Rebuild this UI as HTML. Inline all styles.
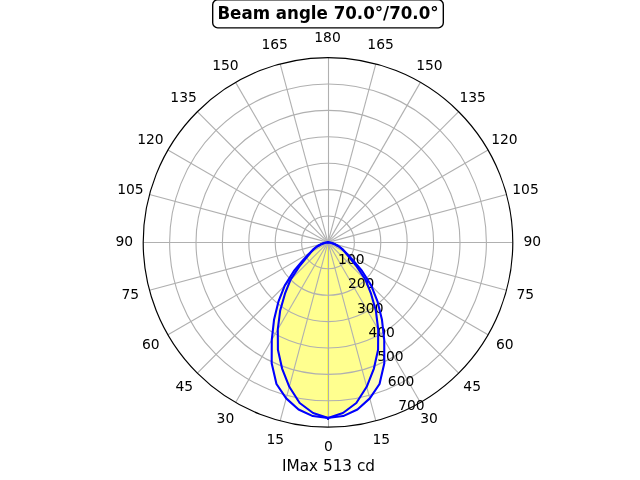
<!DOCTYPE html>
<html lang="en"><head><meta charset="utf-8"><title>Beam angle 70.0°/70.0°</title>
<style>html,body{margin:0;padding:0;background:#fff;width:640px;height:480px;overflow:hidden}svg{display:block}text{font-family:"DejaVu Sans","Liberation Sans",sans-serif;fill:#000}</style>
</head><body>
<svg width="640" height="480" viewBox="0 0 640 480">
<defs><clipPath id="ax"><circle cx="328" cy="242.4" r="184.8"/></clipPath></defs>
<rect width="640" height="480" fill="#fff"/>
<g clip-path="url(#ax)">
<g fill="#ffff00" fill-opacity="0.25" stroke="#ffff00" stroke-opacity="0.25" stroke-width="1.389" stroke-linejoin="miter">
<path d="M328.00 417.96 L343.20 416.08 L357.45 409.44 L369.80 398.39 L379.53 383.98 L384.32 363.18 L384.23 339.80 L381.92 319.41 L377.47 301.35 L371.27 285.67 L362.08 270.99 L352.33 259.44 L345.95 252.76 L342.19 249.02 L338.52 246.23 L335.04 244.29 L331.77 243.06 L329.45 242.53 L328.00 242.40 L328.00 242.40 Z"/>
<path d="M328.00 417.96 L312.80 416.08 L298.55 409.44 L286.20 398.39 L276.47 383.98 L271.68 363.18 L271.77 339.80 L274.08 319.41 L278.53 301.35 L284.73 285.67 L293.92 270.99 L303.67 259.44 L310.05 252.76 L313.81 249.02 L317.48 246.23 L320.96 244.29 L324.23 243.06 L326.55 242.53 L328.00 242.40 L328.00 242.40 Z"/>
<path d="M328.00 417.96 L342.93 413.01 L356.32 403.02 L366.69 386.81 L373.91 368.52 L378.08 349.81 L378.21 329.37 L375.88 310.78 L371.03 293.69 L365.60 280.00 L356.82 266.58 L349.08 257.16 L345.15 252.30 L342.38 249.11 L338.64 246.27 L334.96 244.27 L331.64 243.04 L329.31 242.52 L328.00 242.40 L328.00 242.40 Z"/>
<path d="M328.00 417.96 L313.07 413.01 L299.68 403.02 L289.31 386.81 L282.09 368.52 L277.92 349.81 L277.79 329.37 L280.12 310.78 L284.97 293.69 L290.40 280.00 L299.18 266.58 L306.92 257.16 L310.85 252.30 L313.62 249.11 L317.36 246.27 L321.04 244.27 L324.36 243.04 L326.69 242.52 L328.00 242.40 L328.00 242.40 Z"/>
</g>
<g fill="none" stroke="#b0b0b0" stroke-width="1.111">
<path d="M328.50 242.40 L328.50 427.20"/>
<path d="M328.00 242.40 L375.83 420.90"/>
<path d="M328.00 242.40 L420.40 402.44"/>
<path d="M328.00 242.40 L458.67 373.07"/>
<path d="M328.00 242.40 L488.04 334.80"/>
<path d="M328.00 242.40 L506.50 290.23"/>
<path d="M328.00 242.50 L512.80 242.50"/>
<path d="M328.00 242.40 L506.50 194.57"/>
<path d="M328.00 242.40 L488.04 150.00"/>
<path d="M328.00 242.40 L458.67 111.73"/>
<path d="M328.00 242.40 L420.40 82.36"/>
<path d="M328.00 242.40 L375.83 63.90"/>
<path d="M328.50 242.40 L328.50 57.60"/>
<path d="M328.00 242.40 L280.17 63.90"/>
<path d="M328.00 242.40 L235.60 82.36"/>
<path d="M328.00 242.40 L197.33 111.73"/>
<path d="M328.00 242.40 L167.96 150.00"/>
<path d="M328.00 242.40 L149.50 194.57"/>
<path d="M328.00 242.50 L143.20 242.50"/>
<path d="M328.00 242.40 L149.50 290.23"/>
<path d="M328.00 242.40 L167.96 334.80"/>
<path d="M328.00 242.40 L197.33 373.07"/>
<path d="M328.00 242.40 L235.60 402.44"/>
<path d="M328.00 242.40 L280.17 420.90"/>
<circle cx="328" cy="242.4" r="26.400"/>
<circle cx="328" cy="242.4" r="52.800"/>
<circle cx="328" cy="242.4" r="79.200"/>
<circle cx="328" cy="242.4" r="105.600"/>
<circle cx="328" cy="242.4" r="132.000"/>
<circle cx="328" cy="242.4" r="158.400"/>
</g>
</g>
<g font-size="13.889" text-anchor="middle">
<text x="328.50" y="450.98">0</text>
<text x="381.36" y="443.52">15</text>
<text x="429.12" y="422.61">30</text>
<text x="472.17" y="390.66">45</text>
<text x="504.88" y="348.85">60</text>
<text x="525.28" y="298.59">75</text>
<text x="532.24" y="245.73">90</text>
<text x="525.53" y="193.87">105</text>
<text x="504.38" y="143.61">120</text>
<text x="472.67" y="101.81">135</text>
<text x="429.37" y="69.85">150</text>
<text x="380.61" y="48.95">165</text>
<text x="327.50" y="41.99">180</text>
<text x="274.64" y="48.95">165</text>
<text x="225.38" y="69.85">150</text>
<text x="183.58" y="101.81">135</text>
<text x="150.37" y="143.61">120</text>
<text x="130.47" y="193.87">105</text>
<text x="124.26" y="245.73">90</text>
<text x="130.22" y="298.59">75</text>
<text x="150.87" y="348.85">60</text>
<text x="184.33" y="390.66">45</text>
<text x="225.43" y="422.61">30</text>
<text x="275.39" y="443.52">15</text>
</g>
<g font-size="13.889" text-anchor="start">
<text x="338.10" y="263.90">100</text>
<text x="347.96" y="287.79">200</text>
<text x="357.06" y="312.68">300</text>
<text x="368.46" y="336.57">400</text>
<text x="377.16" y="360.96">500</text>
<text x="387.87" y="385.85">600</text>
<text x="398.22" y="409.74">700</text>
</g>
<g clip-path="url(#ax)" fill="none" stroke="#0000ff" stroke-width="2.083" stroke-linejoin="round" stroke-linecap="square">
<path d="M328.00 417.96 L343.20 416.08 L357.45 409.44 L369.80 398.39 L379.53 383.98 L384.32 363.18 L384.23 339.80 L381.92 319.41 L377.47 301.35 L371.27 285.67 L362.08 270.99 L352.33 259.44 L345.95 252.76 L342.19 249.02 L338.52 246.23 L335.04 244.29 L331.77 243.06 L329.45 242.53 L328.00 242.40"/>
<path d="M328.00 417.96 L312.80 416.08 L298.55 409.44 L286.20 398.39 L276.47 383.98 L271.68 363.18 L271.77 339.80 L274.08 319.41 L278.53 301.35 L284.73 285.67 L293.92 270.99 L303.67 259.44 L310.05 252.76 L313.81 249.02 L317.48 246.23 L320.96 244.29 L324.23 243.06 L326.55 242.53 L328.00 242.40"/>
<path d="M328.00 417.96 L342.93 413.01 L356.32 403.02 L366.69 386.81 L373.91 368.52 L378.08 349.81 L378.21 329.37 L375.88 310.78 L371.03 293.69 L365.60 280.00 L356.82 266.58 L349.08 257.16 L345.15 252.30 L342.38 249.11 L338.64 246.27 L334.96 244.27 L331.64 243.04 L329.31 242.52 L328.00 242.40"/>
<path d="M328.00 417.96 L313.07 413.01 L299.68 403.02 L289.31 386.81 L282.09 368.52 L277.92 349.81 L277.79 329.37 L280.12 310.78 L284.97 293.69 L290.40 280.00 L299.18 266.58 L306.92 257.16 L310.85 252.30 L313.62 249.11 L317.36 246.27 L321.04 244.27 L324.36 243.04 L326.69 242.52 L328.00 242.40"/>
<path d="M328.05 418.00 L328.05 420.00" stroke-linecap="butt" stroke-width="1.9"/>
</g>
<circle cx="328" cy="242.4" r="184.8" fill="none" stroke="#000" stroke-width="1.17"/>
<rect x="212.69" y="-0.18" width="230.62" height="28" rx="5" ry="5" fill="#fff" stroke="#000" stroke-width="1.389"/>
<text transform="translate(328.00 19.00) scale(1 1.07)" font-size="16.667" font-weight="bold" text-anchor="middle">Beam angle 70.0°/70.0°</text>
<text x="328.50" y="470.53" font-size="15.278" text-anchor="middle">IMax 513 cd</text>
</svg>
</body></html>
